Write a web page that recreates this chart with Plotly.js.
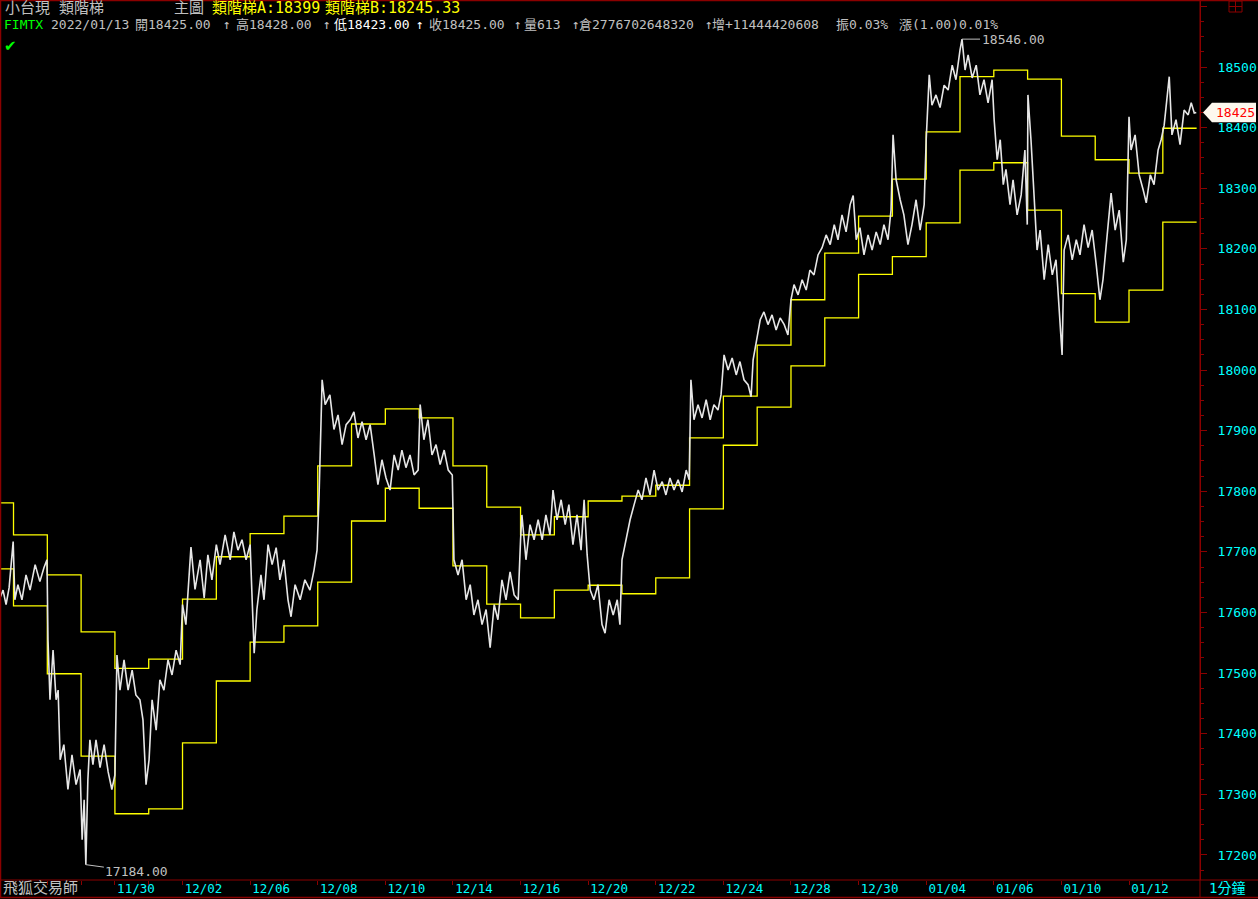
<!DOCTYPE html>
<html><head><meta charset="utf-8">
<script src="https://cdn.plot.ly/plotly-3.0.1.min.js"></script>
<style>html,body{margin:0;padding:0;background:#000;overflow:hidden}#chart{width:1258px;height:899px}</style>
</head><body><div id="chart"></div>
<script>
// Trading days (each day occupies [index, index+1) on the x axis)
const days = ['11/24','11/25','11/26','11/29','11/30','12/01','12/02','12/03','12/06','12/07','12/08','12/09','12/10','12/13','12/14','12/15','12/16','12/17','12/20','12/21','12/22','12/23','12/24','12/27','12/28','12/29','12/30','01/03','01/04','01/05','01/06','01/07','01/10','01/11','01/12','01/13'];
const labelDays = ['11/30','12/02','12/06','12/08','12/10','12/14','12/16','12/20','12/22','12/24','12/28','12/30','01/04','01/06','01/10','01/12'];

// Ladder A / Ladder B value for each trading day
const ladderA = [17781,17728,17662,17568,17508,17523,17622,17692,17730,17759,17842,17911,17936,17921,17842,17774,17728,17758,17784,17792,17810,17888,17957,18041,18116,18193,18254,18315,18393,18484,18495,18480,18386,18347,18325,18399];
const ladderB = [17672,17611,17499,17363,17268,17276,17385,17487,17551,17578,17650,17751,17805,17772,17677,17614,17591,17637,17645,17631,17657,17771,17876,17939,18007,18086,18158,18187,18243,18330,18342,18264,18126,18079,18132,18244];

// Price path (x = trading-day index + fraction of the day)
const priceX = [0.60,0.69,0.78,0.87,0.99,
1.04,1.13,1.25,1.37,1.49,1.64,1.78,1.90,1.99,
2.02,2.08,2.17,2.26,2.32,2.38,2.49,2.61,2.73,2.85,2.97,
3.03,3.09,3.14,3.20,3.26,3.35,3.44,3.56,3.68,3.80,3.91,
4.00,4.06,4.15,4.27,4.39,4.51,4.62,4.74,4.83,4.92,
5.01,5.10,5.22,5.33,5.45,5.57,5.69,5.81,5.93,
6.00,6.10,6.25,6.37,6.52,6.64,6.75,6.87,
7.00,7.11,7.26,7.41,7.52,7.64,7.76,7.88,
8.00,8.06,8.12,8.20,8.32,8.41,8.53,8.65,8.77,8.88,
9.00,9.12,9.21,9.33,9.48,9.62,9.77,9.89,
9.98,10.04,10.13,10.22,10.36,10.48,10.60,10.72,10.84,10.96,
11.07,11.19,11.31,11.43,11.55,11.67,11.78,11.90,
12.02,12.14,12.26,12.38,12.49,12.61,12.73,12.85,12.97,
13.03,13.14,13.26,13.38,13.50,13.62,13.74,13.86,13.98,
14.03,14.15,14.27,14.39,14.51,14.62,14.74,14.86,14.98,
15.10,15.22,15.33,15.45,15.57,15.69,15.81,15.93,
16.00,16.04,16.16,16.28,16.40,16.52,16.64,16.75,16.87,
16.96,17.08,17.20,17.32,17.43,17.55,17.67,17.79,17.88,
17.97,18.06,18.17,18.29,18.41,18.50,18.62,18.74,18.86,18.94,
19.00,19.12,19.24,19.36,19.48,19.59,19.71,19.83,19.95,
20.07,20.19,20.30,20.42,20.54,20.66,20.78,20.90,
20.99,21.04,21.13,21.25,21.37,21.49,21.61,21.72,21.84,21.93,
22.02,22.14,22.26,22.38,22.49,22.61,22.73,22.82,22.88,22.96,
23.09,23.20,23.32,23.44,23.56,23.68,23.80,23.91,
24.00,24.09,24.21,24.33,24.45,24.56,24.68,24.80,24.92,
25.04,25.16,25.28,25.39,25.51,25.63,25.75,25.84,25.93,
26.04,26.16,26.28,26.40,26.52,26.64,26.75,26.87,26.96,
27.02,27.11,27.23,27.34,27.46,27.58,27.70,27.82,27.94,
28.00,28.09,28.17,28.29,28.41,28.53,28.65,28.77,28.88,
29.00,29.06,29.15,29.24,29.36,29.48,29.59,29.71,29.83,29.95,
30.01,30.10,30.19,30.28,30.36,30.48,30.57,30.69,30.81,30.92,30.99,
31.01,31.10,31.19,31.28,31.37,31.49,31.61,31.73,31.84,31.96,
32.02,32.08,32.20,32.32,32.44,32.55,32.67,32.79,32.91,
33.03,33.14,33.23,33.35,33.47,33.59,33.71,33.83,33.92,
34.00,34.06,34.18,34.30,34.42,34.51,34.63,34.74,34.86,34.95,
35.04,35.13,35.19,35.27,35.39,35.51,35.63,35.75,35.84,35.93,35.99];
const priceY = [17624,17637,17613,17641,17717,
17621,17646,17621,17662,17637,17679,17651,17674,17687,
17555,17456,17538,17456,17472,17357,17382,17308,17365,17316,17341,
17225,17291,17184,17324,17390,17349,17390,17344,17382,17337,17308,
17332,17530,17472,17522,17472,17505,17464,17456,17423,17316,
17357,17456,17406,17489,17472,17522,17497,17538,17514,
17613,17580,17708,17638,17687,17624,17695,17654,
17712,17679,17728,17687,17733,17703,17720,17687,
17712,17621,17533,17605,17662,17621,17712,17679,17707,17654,
17687,17621,17593,17646,17621,17654,17637,17670,
17703,17794,17984,17943,17959,17902,17926,17877,17910,17918,
17931,17888,17915,17885,17910,17860,17811,17852,
17822,17802,17860,17835,17868,17839,17860,17827,17835,
17943,17885,17918,17860,17877,17844,17868,17835,17827,
17687,17662,17687,17621,17646,17596,17621,17580,17605,
17542,17613,17588,17654,17621,17667,17629,17621,
17720,17761,17687,17745,17720,17753,17720,17761,17728,
17802,17753,17786,17745,17778,17712,17761,17703,17786,
17695,17637,17621,17646,17580,17566,17621,17596,17621,17580,
17687,17720,17753,17778,17802,17786,17822,17794,17835,
17802,17816,17794,17822,17802,17819,17799,17835,
17819,17984,17918,17943,17921,17951,17918,17943,17934,17959,
18025,18000,18020,17992,18014,17984,17976,17956,18017,18042,
18083,18096,18075,18091,18066,18086,18075,18058,
18116,18141,18124,18149,18132,18165,18157,18190,18202,
18223,18207,18240,18215,18256,18228,18273,18288,18215,
18235,18190,18223,18198,18228,18207,18240,18215,18264,
18388,18314,18281,18256,18207,18240,18281,18231,18273,
18380,18487,18437,18454,18433,18470,18462,18503,18479,
18528,18546,18495,18520,18482,18503,18454,18479,18441,18479,
18413,18347,18380,18306,18331,18273,18314,18256,18289,18363,18240,
18454,18380,18281,18198,18231,18149,18207,18157,18182,18083,
18025,18198,18223,18182,18215,18190,18240,18202,18231,
18174,18116,18149,18215,18292,18231,18264,18178,18215,
18418,18363,18388,18322,18297,18276,18322,18306,18363,18380,
18404,18446,18484,18388,18413,18372,18429,18421,18441,18424,18425];

const lastPrice = 18425;
const highMark = {day: 29.06, value: 18546};
const lowMark = {day: 3.14, value: 17184};
const header1 = [['小台現 類階梯','#c0c0c0',3],['主圖','#c0c0c0',172],['類階梯A:18399','#ffff00',210],['類階梯B:18245.33','#ffff00',323]];
const header2 = [['FIMTX','#00ff00',2],['2022/01/13','#c0c0c0',49],['開18425.00','#c0c0c0',133],['↑','#c0c0c0',221],['高18428.00','#c0c0c0',234],['↑','#c0c0c0',321],['低18423.00','#ffffff',332],['↑','#ffffff',414],['收18425.00','#c0c0c0',427],['↑','#c0c0c0',512],['量613','#c0c0c0',522],['↑','#c0c0c0',570],['倉2776702648320','#c0c0c0',577],['↑','#c0c0c0',703],['增+11444420608','#c0c0c0',710],['振0.03%','#c0c0c0',834],['漲(1.00)0.01%','#c0c0c0',897]];

const RED = '#8b0000';
const FONT = 'DejaVu Sans Mono, Noto Sans CJK TC, monospace';
const W = 1258, H = 899, ML = 1, MR = 58, MT = 1, MB = 19;
const PW = W - ML - MR, PH = H - MT - MB;
const px = v => (v - ML) / PW;
const py = v => (H - MB - v) / PH;

const n = Math.min(priceX.length, priceY.length);
const stepX = days.map((d, i) => i).concat([days.length]);
const traces = [
  {x: stepX, y: ladderA.concat([ladderA[ladderA.length-1]]), mode:'lines', line:{shape:'hv', color:'#ffff00', width:1.3}, hoverinfo:'skip'},
  {x: stepX, y: ladderB.concat([ladderB[ladderB.length-1]]), mode:'lines', line:{shape:'hv', color:'#ffff00', width:1.3}, hoverinfo:'skip'},
  {x: priceX.slice(0,n), y: priceY.slice(0,n), mode:'lines', line:{color:'#e6e6e6', width:1.6}, hoverinfo:'skip'}
];

const annotations = [];
header1.forEach(([t,c,x]) => annotations.push({xref:'paper', yref:'paper', x:px(x), y:py(8), xanchor:'left', yanchor:'middle', text:t, showarrow:false, font:{family:FONT, size:15, color:c}}));
header2.forEach(([t,c,x]) => annotations.push({xref:'paper', yref:'paper', x:px(x), y:py(25), xanchor:'left', yanchor:'middle', text:t, showarrow:false, font:{family:FONT, size:13, color:c}}));
annotations.push({xref:'paper', yref:'paper', x:px(2), y:py(46), xanchor:'left', yanchor:'middle', text:'✔', showarrow:false, font:{family:'DejaVu Sans', size:15, color:'#00ff00'}});
annotations.push({x:highMark.day, y:highMark.value, text:highMark.value.toFixed(2), showarrow:true, arrowhead:0, arrowwidth:1, arrowcolor:'#c0c0c0', ax:51, ay:0, font:{family:FONT, size:13, color:'#c0c0c0'}});
annotations.push({x:lowMark.day, y:lowMark.value, text:lowMark.value.toFixed(2), showarrow:true, arrowhead:0, arrowwidth:1, arrowcolor:'#c0c0c0', ax:51, ay:7, font:{family:FONT, size:13, color:'#c0c0c0'}});
annotations.push({xref:'paper', yref:'paper', x:px(1), y:py(888), xanchor:'left', yanchor:'middle', text:'飛狐交易師', showarrow:false, font:{family:FONT, size:15, color:'#c0c0c0'}});
annotations.push({xref:'paper', yref:'paper', x:px(1207), y:py(888), xanchor:'left', yanchor:'middle', text:'1分鐘', showarrow:false, font:{family:FONT, size:14, color:'#00ffff'}});
annotations.push({xref:'paper', yref:'y', x:px(1235), y:lastPrice, xanchor:'center', yanchor:'middle', text:String(lastPrice), showarrow:false, font:{family:FONT, size:13, color:'#ff0000'}});

const tagH = 16;
const shapes = [
  {type:'line', xref:'paper', yref:'paper', x0:px(0), x1:px(W), y0:py(0.5), y1:py(0.5), line:{color:RED, width:1.5}},
  {type:'line', xref:'paper', yref:'paper', x0:px(0.5), x1:px(0.5), y0:py(0), y1:py(898), line:{color:RED, width:1.5}},
  {type:'line', xref:'paper', yref:'paper', x0:px(0), x1:px(W), y0:py(880), y1:py(880), line:{color:RED, width:1}},
  {type:'line', xref:'paper', yref:'paper', x0:px(0), x1:px(W), y0:py(897.5), y1:py(897.5), line:{color:RED, width:1.5}},
  {type:'line', xref:'paper', yref:'paper', x0:px(1200), x1:px(1200), y0:py(0), y1:py(898), line:{color:RED, width:1}},
  {type:'rect', xref:'paper', yref:'paper', x0:px(1229), x1:px(1242), y0:py(1), y1:py(12), line:{color:RED, width:1}},
  {type:'line', xref:'paper', yref:'paper', x0:px(1235.5), x1:px(1235.5), y0:py(1), y1:py(12), line:{color:RED, width:1}},
  {type:'line', xref:'paper', yref:'paper', x0:px(1229), x1:px(1242), y0:py(6.5), y1:py(6.5), line:{color:RED, width:1}},
  {type:'path', xref:'paper', yref:'y', path:`M ${px(1203)} ${lastPrice} L ${px(1212)} ${lastPrice+tagH} L ${px(1256)} ${lastPrice+tagH} L ${px(1256)} ${lastPrice-tagH} L ${px(1212)} ${lastPrice-tagH} Z`, fillcolor:'#fdf8ee', line:{width:0}, layer:'above'}
];

const tickvals = days.map((d,i)=>i).filter(i => i >= 1);
const ticktext = tickvals.map(i => labelDays.includes(days[i]) ? days[i] : '');

const layout = {
  width:W, height:H, paper_bgcolor:'#000', plot_bgcolor:'#000',
  margin:{l:ML, r:MR, t:MT, b:MB}, showlegend:false,
  xaxis:{range:[0.63, 36.1], tickmode:'array', tickvals, ticktext, ticks:'outside', ticklen:4, tickcolor:RED, tickwidth:1,
    showgrid:false, zeroline:false, showline:false, tickfont:{family:FONT, size:12.5, color:'#00ffff'}, ticklabelshift:21, ticklabelstandoff:-7, fixedrange:true},
  yaxis:{side:'right', range:[17158.7, 18608.9], tickmode:'linear', tick0:0, dtick:100, tickformat:'d', ticks:'outside', ticklen:6, tickcolor:RED,
    showline:true, linecolor:RED, linewidth:1, showgrid:false, zeroline:false, tickfont:{family:FONT, size:13, color:'#00ffff'}, ticklabelstandoff:8,
    minor:{dtick:25, ticks:'outside', ticklen:3, tickcolor:RED, showgrid:false}, fixedrange:true},
  annotations, shapes
};
Plotly.newPlot('chart', traces, layout, {displayModeBar:false, staticPlot:true});
</script></body></html>
